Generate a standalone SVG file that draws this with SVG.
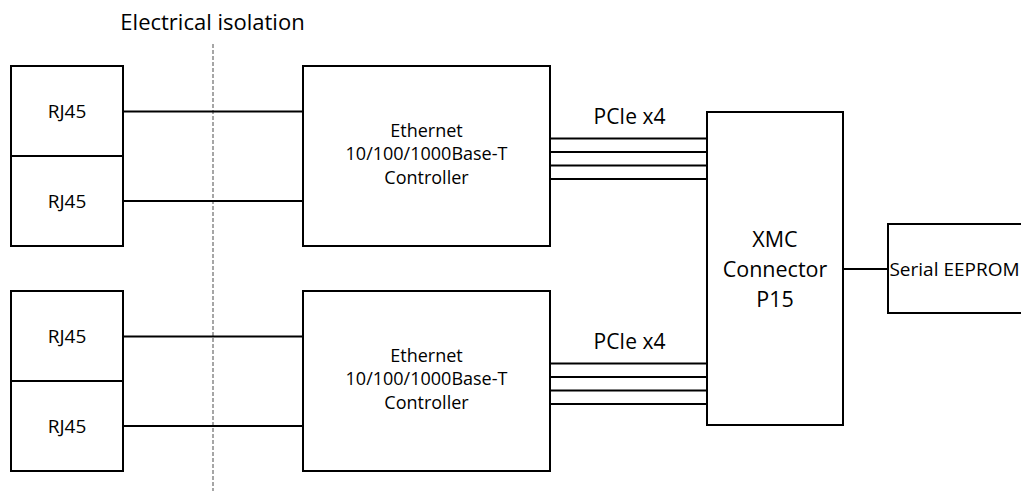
<svg xmlns="http://www.w3.org/2000/svg" width="1021" height="491" viewBox="0 0 1021 491">
<style>
.box{fill:#fff;stroke:#000;stroke-width:2}
.ln{stroke:#000;stroke-width:2;fill:none}
.iso{stroke:#a6a6a6;stroke-width:2;stroke-dasharray:4,2;fill:none}
text{font-family:"Open Sans","Liberation Sans",sans-serif;fill:#000;text-anchor:middle}
.s{font-size:18px}
.r{font-size:19px}
.m{font-size:21px}
.l{font-size:21.5px}
</style>
<rect width="1021" height="491" fill="#fff"/>
<text class="m" x="212.5" y="30" style="font-size:22px">Electrical isolation</text>
<g id="connectors">
<line class="iso" x1="213" y1="44" x2="213" y2="491"/>
<line class="ln" x1="123" y1="111.5" x2="303" y2="111.5"/>
<line class="ln" x1="123" y1="201" x2="303" y2="201"/>
<line class="ln" x1="123" y1="336.5" x2="303" y2="336.5"/>
<line class="ln" x1="123" y1="426" x2="303" y2="426"/>
<line class="ln" x1="550" y1="138.5" x2="707" y2="138.5"/>
<line class="ln" x1="550" y1="152" x2="707" y2="152"/>
<line class="ln" x1="550" y1="165.5" x2="707" y2="165.5"/>
<line class="ln" x1="550" y1="179" x2="707" y2="179"/>
<line class="ln" x1="550" y1="363.5" x2="707" y2="363.5"/>
<line class="ln" x1="550" y1="377" x2="707" y2="377"/>
<line class="ln" x1="550" y1="390.5" x2="707" y2="390.5"/>
<line class="ln" x1="550" y1="404" x2="707" y2="404"/>
<line class="ln" x1="843" y1="269" x2="888" y2="269"/>
<text class="m" x="629.5" y="123.5">PCIe x4</text>
<text class="m" x="629.5" y="348.5">PCIe x4</text>
</g>
<g id="rj45-1"><rect class="box" x="11" y="66" width="112" height="90"/><text class="r" x="67" y="118">RJ45</text></g>
<g id="rj45-2"><rect class="box" x="11" y="156" width="112" height="90"/><text class="r" x="67" y="208">RJ45</text></g>
<g id="rj45-3"><rect class="box" x="11" y="291" width="112" height="90"/><text class="r" x="67" y="343">RJ45</text></g>
<g id="rj45-4"><rect class="box" x="11" y="381" width="112" height="90"/><text class="r" x="67" y="433">RJ45</text></g>
<g id="eth-1"><rect class="box" x="303" y="66" width="247" height="180"/>
<text class="s" x="426.5" y="136.5">Ethernet</text><text class="s" x="426.5" y="160">10/100/1000Base-T</text><text class="s" x="426.5" y="184">Controller</text></g>
<g id="eth-2"><rect class="box" x="303" y="291" width="247" height="180"/>
<text class="s" x="426.5" y="361.5">Ethernet</text><text class="s" x="426.5" y="385">10/100/1000Base-T</text><text class="s" x="426.5" y="409">Controller</text></g>
<g id="xmc"><rect class="box" x="707" y="112" width="136" height="313"/>
<text class="l" x="775" y="246.5">XMC</text><text class="l" x="775" y="276.5">Connector</text><text class="l" x="775" y="306.5">P15</text></g>
<g id="eeprom"><rect class="box" x="888" y="224" width="140" height="89"/>
<text class="r" x="954.5" y="276">Serial EEPROM</text></g>
</svg>
